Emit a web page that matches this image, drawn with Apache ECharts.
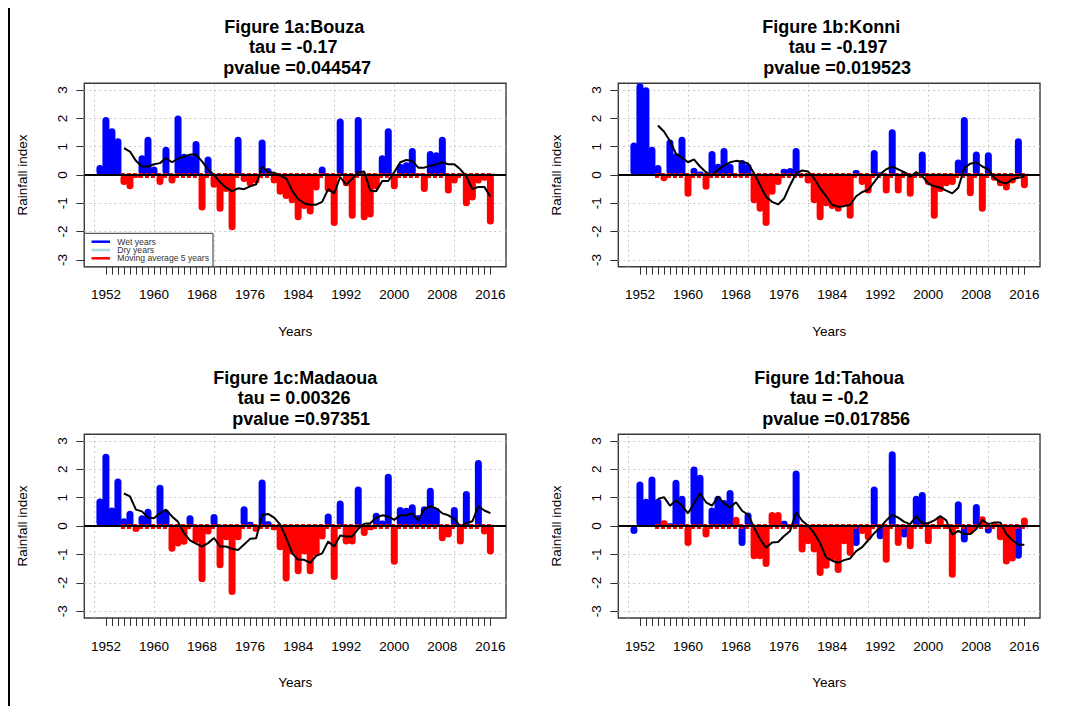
<!DOCTYPE html>
<html><head><meta charset="utf-8">
<script src="https://cdn.jsdelivr.net/npm/echarts@6/dist/echarts.min.js"></script>
<style>html,body{margin:0;padding:0;background:#fff}#c{width:1068px;height:706px}</style>
</head><body><div id="c"></div>
<script>
// ---------------- DATA ----------------
const years = [1951,1952,1953,1954,1955,1956,1957,1958,1959,1960,
  1961,1962,1963,1964,1965,1966,1967,1968,1969,1970,
  1971,1972,1973,1974,1975,1976,1977,1978,1979,1980,
  1981,1982,1983,1984,1985,1986,1987,1988,1989,1990,
  1991,1992,1993,1994,1995,1996,1997,1998,1999,2000,
  2001,2002,2003,2004,2005,2006,2007,2008,2009,2010,
  2011,2012,2013,2014,2015,2016];
const xLabelYears = [1952,1960,1968,1976,1984,1992,2000,2008,2016];
const xGridYears = [1950,1960,1970,1980,1990,2000,2010];
const yTicks = [-3,-2,-1,0,1,2,3];

const bouzaIndex = [0.35,2.05,1.65,1.3,-0.35,-0.5,-0.1,0.7,1.35,0.3,
  -0.35,1.0,-0.3,2.1,0.75,0.7,1.2,-1.25,0.65,-0.45,
  -1.3,-0.6,-1.95,1.35,-0.25,-0.4,-0.3,1.25,0.25,-0.3,
  -0.7,-0.85,-1.0,-1.6,-1.2,-1.4,-0.55,0.3,-0.6,-1.8,
  2.0,-0.4,-1.55,2.05,-1.6,-1.5,-0.5,0.7,1.65,-0.5,
  0.4,0.45,0.95,0.05,-0.6,0.85,0.8,1.35,-0.65,-0.3,
  0.05,-1.1,-0.9,-0.3,-0.2,-1.75];
const bouzaType = "wwwwdddwww"+"dwdwwwwdwd"+"dddwdddwwd"+"dddddddwdd"+"wddwdddwwd"+"wwwwdwwwdd"+"wddddd";
const bouzaMA = [null,null,null,null,0.95,0.83,0.5,0.3,0.3,0.38,
  0.42,0.6,0.45,0.58,0.65,0.72,0.72,0.48,0.2,0.0,
  -0.25,-0.45,-0.57,-0.47,-0.5,-0.4,-0.33,0.3,0.1,0.08,
  -0.02,-0.12,-0.55,-0.85,-1.0,-1.05,-1.05,-0.95,-0.5,-0.65,
  -0.07,-0.35,-0.13,0.1,0.12,-0.55,-0.57,-0.21,-0.21,0.1,
  0.45,0.53,0.5,0.26,0.26,0.33,0.38,0.45,0.38,0.38,
  0.2,-0.05,-0.5,-0.42,-0.42,-0.77];

const konniIndex = [1.15,3.3,3.1,1.0,0.35,-0.22,1.25,0.77,1.35,-0.77,
  0.26,0.12,-0.52,0.85,0.4,0.95,0.4,-0.05,0.53,0.4,
  -1.0,-1.3,-1.8,-0.7,-0.35,0.22,0.25,0.95,-0.05,-0.3,
  -1.0,-1.6,-1.1,-1.2,-1.3,-1.1,-1.55,0.18,-0.35,-0.65,
  0.88,0.1,-0.65,1.62,-0.65,0.1,-0.77,0.05,0.83,-0.35,
  -1.55,-0.6,-0.4,-0.35,0.55,2.05,-0.75,0.83,-1.3,0.8,
  -0.2,-0.4,-0.55,-0.3,1.3,-0.47];
const konniType = "wwwwwdwwwd"+"wwdwwwwdww"+"dddddwwwdd"+"dddddddwdd"+"wwdwdwdwwd"+"ddddwwdwdw"+"ddddwd";
const konniMA = [null,null,null,null,1.75,1.54,1.2,0.75,0.62,0.45,
  0.55,0.3,0.1,-0.02,0.18,0.33,0.45,0.5,0.47,0.41,
  0.06,-0.36,-0.77,-0.95,-1.04,-0.83,-0.36,0.06,0.16,0.12,
  -0.12,-0.47,-0.75,-1.05,-1.12,-1.1,-1.05,-0.75,-0.6,-0.53,
  -0.25,0.03,0.2,0.3,0.2,0.1,-0.06,0.1,-0.04,-0.3,
  -0.4,-0.45,-0.55,-0.65,-0.45,0.25,0.4,0.45,0.3,0.2,
  -0.1,-0.25,-0.3,-0.15,-0.1,-0.05];

const madaouaIndex = [0.97,2.55,0.66,1.68,0.28,0.54,-0.21,0.38,0.61,-0.05,
  1.46,0.58,-0.9,-0.72,-0.66,0.38,-0.6,-1.98,-0.3,0.43,
  -1.49,-0.5,-2.43,-0.5,0.7,0.15,-0.2,1.64,0.17,-0.15,
  -0.85,-1.95,-1.0,-1.7,-1.0,-1.7,-1.06,-0.47,0.44,-1.9,
  0.9,-0.65,-0.65,1.4,-0.35,-0.15,0.47,0.2,1.85,-1.36,
  0.67,0.65,0.77,0.39,0.7,1.35,0.65,-0.53,-0.4,0.67,
  -0.65,1.24,0.05,2.33,-0.3,-1.0];
const madaouaType = "wwwwwwdwwd"+"wwdddwdddw"+"ddddwwdwwd"+"ddddddddwd"+"wddwddwwwd"+"wwwwwwwddw"+"dwwwdd";
const madaouaMA = [null,null,null,null,1.15,1.05,0.58,0.52,0.3,0.28,
  0.46,0.58,0.34,0.15,-0.25,-0.5,-0.62,-0.72,-0.6,-0.42,
  -0.72,-0.72,-0.8,-0.84,-0.65,-0.45,-0.43,0.38,0.43,0.3,
  0.06,-0.41,-0.95,-1.19,-1.19,-1.3,-1.05,-0.96,-0.54,-0.72,
  -0.33,-0.37,-0.37,-0.1,0.08,0.1,0.3,0.38,0.34,0.22,
  0.38,0.38,0.45,0.19,0.6,0.7,0.62,0.45,0.38,0.25,
  0.0,0.1,0.17,0.7,0.55,0.46];

const tahouaIndex = [-0.28,1.57,0.96,1.75,0.96,0.21,0.1,1.63,1.07,-0.7,
  2.1,1.81,-0.4,0.66,1.07,0.92,1.27,0.33,-0.7,0.48,
  -1.17,-1.17,-1.44,0.5,0.5,0.19,0.05,1.96,-0.93,-0.64,
  -0.93,-1.76,-1.5,-1.2,-1.65,-0.64,-1.05,-0.7,-0.28,-0.5,
  1.4,-0.46,-1.29,2.64,-0.7,-0.4,-0.82,1.07,1.2,-0.64,
  -0.1,0.3,-0.1,-1.82,0.88,-0.58,-0.3,0.78,0.35,-0.26,
  0.1,-0.5,-1.35,-1.25,-1.15,0.3];
const tahouaType = "wwwwwdwwwd"+"wwdwwwwdww"+"dddddwwwdd"+"dddddddwdd"+"wwdwdwdwwd"+"ddddwwdwdw"+"ddddwd";
const tahouaMA = [null,null,null,null,0.96,1.02,0.72,0.9,0.72,0.45,
  0.8,1.15,0.84,0.72,1.04,0.8,0.66,0.84,0.54,0.4,
  -0.05,-0.46,-0.76,-0.58,-0.56,-0.35,-0.17,0.49,0.19,0.01,
  -0.25,-0.6,-1.11,-1.22,-1.29,-1.2,-1.14,-0.88,-0.74,-0.5,
  -0.25,-0.05,0.2,0.4,0.3,0.15,0.07,0.35,0.1,0.1,
  0.2,0.35,0.2,-0.3,-0.17,-0.28,-0.28,-0.1,0.21,0.07,
  0.13,0.13,-0.28,-0.5,-0.66,-0.66];

const bouzaTitle = ["Figure 1a:Bouza", "tau = -0.17", "pvalue =0.044547"];
const konniTitle = ["Figure 1b:Konni", "tau = -0.197", "pvalue =0.019523"];
const madaouaTitle = ["Figure 1c:Madaoua", "tau = 0.00326", "pvalue =0.97351"];
const tahouaTitle = ["Figure 1d:Tahoua", "tau = -0.2", "pvalue =0.017856"];
const legendLabels = ["Wet years", "Dry years", "Moving average 5 years"];
const xAxisTitle = "Years";
const yAxisTitle = "Rainfall index";

// ---------------- LAYOUT / STYLE ----------------
const FONT = "'Liberation Sans', Arial, Helvetica, sans-serif";
const panelBoxes = [
  {left:84.3, top:83.3, width:421.7, height:183.4},
  {left:618.3, top:83.3, width:421.7, height:183.4},
  {left:84.3, top:434.2, width:421.7, height:183.8},
  {left:618.3, top:434.2, width:421.7, height:183.8}
];
const titleDx = [[-1,-2,2],[2,9,8],[0,-1,6],[0,0,7]];
const indexSets = [bouzaIndex, konniIndex, madaouaIndex, tahouaIndex];
const typeSets = [bouzaType, konniType, madaouaType, tahouaType];
const maSets = [bouzaMA, konniMA, madaouaMA, tahouaMA];
const titleSets = [bouzaTitle, konniTitle, madaouaTitle, tahouaTitle];
const X_MIN = 1948.4, X_MAX = 2018.6, Y_MIN = -3.24, Y_MAX = 3.24;
const BLUE = '#0000FF', RED = '#FF0000', LIGHTBLUE = '#ADD8E6';
const BAR_W = 7;

const chart = echarts.init(document.getElementById('c'), null, {renderer:'svg', width:1068, height:706});

const grids = [], xAxes = [], yAxes = [], series = [], graphics = [];

panelBoxes.forEach((b, i) => {
  grids.push({left:b.left, top:b.top, width:b.width, height:b.height, show:true,
    borderColor:'#3a3a3a', borderWidth:1.4, backgroundColor:'transparent'});
  xAxes.push({type:'value', gridIndex:i, min:X_MIN, max:X_MAX, position:'bottom',
    axisLine:{show:false, onZero:false},
    axisTick:{show:true, customValues: years.slice(1), length:8, lineStyle:{color:'#333', width:1}},
    axisLabel:{show:true, customValues: xLabelYears, formatter: v => String(v), margin:21,
      fontSize:13.5, fontFamily:FONT, color:'#000'},
    splitLine:{show:false}});
  yAxes.push({type:'value', gridIndex:i, min:Y_MIN, max:Y_MAX, position:'left',
    axisLine:{show:false, onZero:false},
    axisTick:{show:true, customValues: yTicks, length:8, lineStyle:{color:'#333', width:1}},
    axisLabel:{show:true, customValues: yTicks, formatter: v => String(v), rotate:90, margin:15,
      fontSize:13.5, fontFamily:FONT, color:'#000'},
    splitLine:{show:false}});

  const vals = indexSets[i], types = typeSets[i], ma = maSets[i];
  const wet = [], dry = [], maPts = [];
  years.forEach((y, k) => {
    if (types[k] === 'w') wet.push([y, vals[k]]); else dry.push([y, vals[k]]);
    if (ma[k] !== null) maPts.push([y, ma[k]]);
  });
  const gridLineData = xGridYears.map(v => ({xAxis:v})).concat(yTicks.map(v => ({yAxis:v})));
  series.push({type:'bar', xAxisIndex:i, yAxisIndex:i, data:wet, barWidth:BAR_W, barGap:'-100%',
    itemStyle:{color:BLUE, borderRadius:3.5}, z:2, silent:true, animation:false,
    markLine:{silent:true, z:1, symbol:['none','none'], label:{show:false}, animation:false,
      lineStyle:{color:'#c8c8c8', type:[2,3], width:1}, data:gridLineData}});
  series.push({type:'bar', xAxisIndex:i, yAxisIndex:i, data:dry, barWidth:BAR_W, barGap:'-100%',
    itemStyle:{color:RED, borderRadius:3.5}, z:2, silent:true, animation:false,
    markLine:{silent:true, z:3, symbol:['none','none'], label:{show:false}, animation:false,
      lineStyle:{color:RED, type:[4,2], width:5},
      data:[[{coord:[maPts[0][0]-0.5, 0]}, {coord:[years[years.length-1]+0.5, 0]}]]}});
  series.push({type:'line', xAxisIndex:i, yAxisIndex:i, data:maPts, showSymbol:false, symbol:'none',
    lineStyle:{color:'#000', width:2}, z:5, silent:true, animation:false,
    markLine:{silent:true, z:4, symbol:['none','none'], label:{show:false}, animation:false,
      lineStyle:{color:'#000', type:'solid', width:2}, data:[{yAxis:0}]}});

  // titles
  const cx = b.left + b.width/2;
  const ty = [-56, -36, -15];
  titleSets[i].forEach((t, j) => {
    graphics.push({type:'text', x: cx + titleDx[i][j], y: b.top + ty[j], z:20,
      style:{text:t, fontSize:18, fontWeight:'bold', fontFamily:FONT, fill:'#000',
        align:'center', verticalAlign:'middle', textAlign:'center', textVerticalAlign:'middle'}});
  });
  graphics.push({type:'text', x: cx, y: b.top + b.height + 64.5, z:20,
    style:{text:xAxisTitle, fontSize:13.5, fontFamily:FONT, fill:'#000',
      align:'center', verticalAlign:'middle', textAlign:'center', textVerticalAlign:'middle'}});
  graphics.push({type:'text', x: b.left - 62, y: b.top + b.height/2, rotation: Math.PI/2, z:20,
    style:{text:yAxisTitle, fontSize:13.5, fontFamily:FONT, fill:'#000',
      align:'center', verticalAlign:'middle', textAlign:'center', textVerticalAlign:'middle'}});
});

// legend in panel 1a
const lb = panelBoxes[0];
graphics.push({type:'rect', z:30, shape:{x:lb.left, y:lb.top + lb.height - 33.4, width:128.7, height:33.4},
  style:{fill:'#fff', stroke:'#333', lineWidth:1}});
[BLUE, LIGHTBLUE, RED].forEach((col, j) => {
  const yy = lb.top + lb.height - 25 + j*8.3;
  graphics.push({type:'line', z:31, shape:{x1:lb.left+7.2, y1:yy, x2:lb.left+25.7, y2:yy},
    style:{stroke:col, lineWidth:2.5}});
  graphics.push({type:'text', z:31, x: lb.left + 33, y: yy,
    style:{text:legendLabels[j], fontSize:8.6, fontFamily:FONT, fill:'#333',
      align:'left', verticalAlign:'middle', textAlign:'left', textVerticalAlign:'middle'}});
});
// left border line of the figure
graphics.push({type:'line', z:30, shape:{x1:9, y1:8, x2:9, y2:706}, style:{stroke:'#000', lineWidth:2}});

chart.setOption({
  animation:false,
  backgroundColor:'#fff',
  grid:grids, xAxis:xAxes, yAxis:yAxes, series:series,
  graphic:{elements:graphics}
});
</script></body></html>
